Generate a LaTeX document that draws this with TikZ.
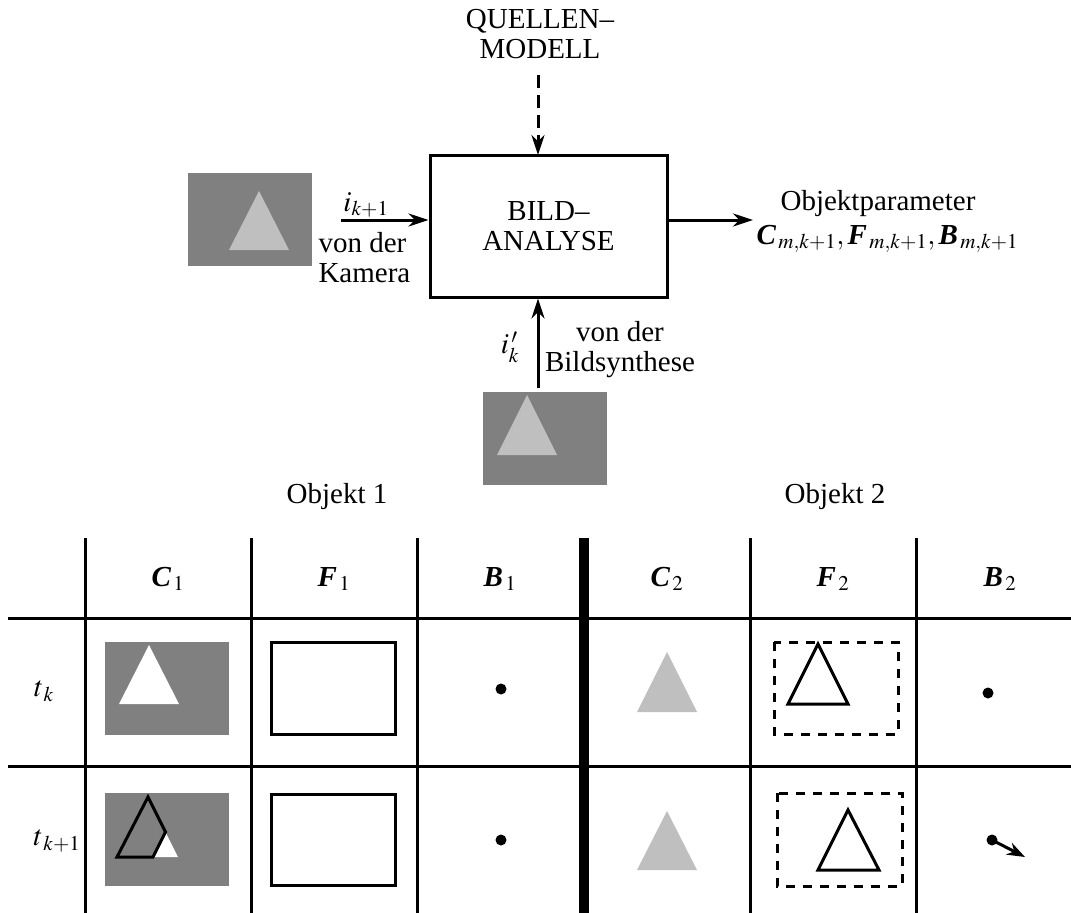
\documentclass[tikz,border=0pt]{standalone}
\usepackage{mathptmx}
\usepackage{fontspec}
\setmainfont{Liberation Serif}
\usetikzlibrary{arrows.meta}
\DeclareMathSizes{29}{29}{21}{16}
\definecolor{dgray}{gray}{0.5}
\definecolor{lgray}{gray}{0.75}
\newcommand\bfi[1]{\textbf{\textit{#1}}}
\begin{document}
\begin{tikzpicture}[x=1pt,y=-1pt,
  font=\fontsize{29}{30}\selectfont,
  line width=3pt,
  lbl/.style={inner sep=0pt, align=center},
  arr/.style={-{Stealth[length=20pt,width=13pt]}},
  sarr/.style={-{Stealth[length=18pt,width=13pt]}},
  imgbox/.style={fill=dgray, draw=none, inner sep=0pt, minimum width=124pt, minimum height=93pt},
  gridline/.style={line width=3pt},
  thickline/.style={line width=10pt},
  dashbox/.style={dash pattern=on 9pt off 8pt, line width=3pt},
  outl/.style={line width=3pt, line join=miter}]
\useasboundingbox (0,0) rectangle (1071,913);

% ---------- top part ----------
\node[lbl] (qm) at (540,34) {QUELLEN--\\MODELL};
\node[draw, line width=3pt, minimum width=237pt, minimum height=142pt, inner sep=0pt,
      align=center] (ba) at (548.5,226) {BILD--\\ANALYSE};
\coordinate (qmend) at (538,75);
\draw[arr, dash pattern=on 13pt off 7pt] (qmend) -- (538,155);

% camera image
\node[imgbox] (cam) at (250,219.5) {};
\fill[lgray] (229,250) -- (259,191) -- (289,250) -- cycle;
\coordinate (camarr) at (341,220);
\draw[arr] (camarr) -- (ba.west |- camarr);
\node[lbl, anchor=base] (ik1) at (366,211) {$i_{k+1}$};
\node[lbl, anchor=north west, align=left] (vdk) at (317,231) {von der\\Kamera};

% output
\coordinate (outend) at (753,220);
\draw[arr] (ba.east |- outend) -- (outend);
\node[lbl] (op) at (878,204) {Objektparameter};
\node[lbl, anchor=base west] (opp) at (755,244)
  {$\bfi{C}_{\,m,k+1},\bfi{F}_{\,m,k+1},\bfi{B}_{\,m,k+1}$};

% synthesis image
\node[imgbox] (syn) at (545,438) {};
\fill[lgray] (497,455) -- (527,395) -- (557,455) -- cycle;
\coordinate (synarr) at (538,388);
\draw[arr] (synarr) -- (ba.south -| synarr);
\node[lbl] (ik) at (510,347) {$i_k^{\,\prime}$};
\node[lbl] (vdb) at (620,350) {von der\\Bildsynthese};

% ---------- table ----------
\node[lbl] (o1) at (337,497) {Objekt 1};
\node[lbl] (o2) at (835,497) {Objekt 2};

\foreach \x in {85,251,417,750,916}
  \draw[gridline] (\x,538) -- (\x,913);
\draw[thickline] (584,538) -- (584,913);
\draw[gridline] (8,618) -- (1071,618);
\draw[gridline] (8,766) -- (1071,766);

\node[lbl] (hc1) at (168,579) {$\bfi{C}_{\,1}$};
\node[lbl] (hf1) at (334,579) {$\bfi{F}_{\,1}$};
\node[lbl] (hb1) at (500,579) {$\bfi{B}_{\,1}$};
\node[lbl] (hc2) at (667,579) {$\bfi{C}_{\,2}$};
\node[lbl] (hf2) at (833,579) {$\bfi{F}_{\,2}$};
\node[lbl] (hb2) at (1000,579) {$\bfi{B}_{\,2}$};

\node[lbl] (tk) at (44,691) {$t_{\,k}$};
\node[lbl] (tk1) at (57,841) {$t_{\,k+1}$};

% row 1
\node[imgbox] (c1a) at (167,688.5) {};
\fill[white] (119,704) -- (149,645) -- (179,704) -- cycle;
\draw[outl] (271,642) rectangle (395,734);
\fill (501,689) circle (5.5);
\fill[lgray] (637,712) -- (667,652) -- (697,712) -- cycle;
\draw[dashbox] (774,642) rectangle (898,734);
\draw[outl] (788,704) -- (818,644) -- (848,704) -- cycle;
\fill (988,693) circle (5.5);

% row 2
\node[imgbox] (c1b) at (167,839.5) {};
\fill[white] (153,857) -- (165.5,832) -- (178,857) -- cycle;
\draw[outl] (117,857) -- (148,797) -- (165.5,832) -- (153,857) -- cycle;
\draw[outl] (271,794) rectangle (395,885);
\fill (501,840) circle (5.5);
\fill[lgray] (637,870) -- (667,811) -- (697,870) -- cycle;
\draw[dashbox] (777,793) rectangle (902,886);
\draw[outl] (818,870) -- (848,810) -- (879,870) -- cycle;
\fill (992,840) circle (5.5);
\coordinate (bmv) at (1025,857);
\draw[sarr] (992,840) -- (bmv);
\end{tikzpicture}
\end{document}
